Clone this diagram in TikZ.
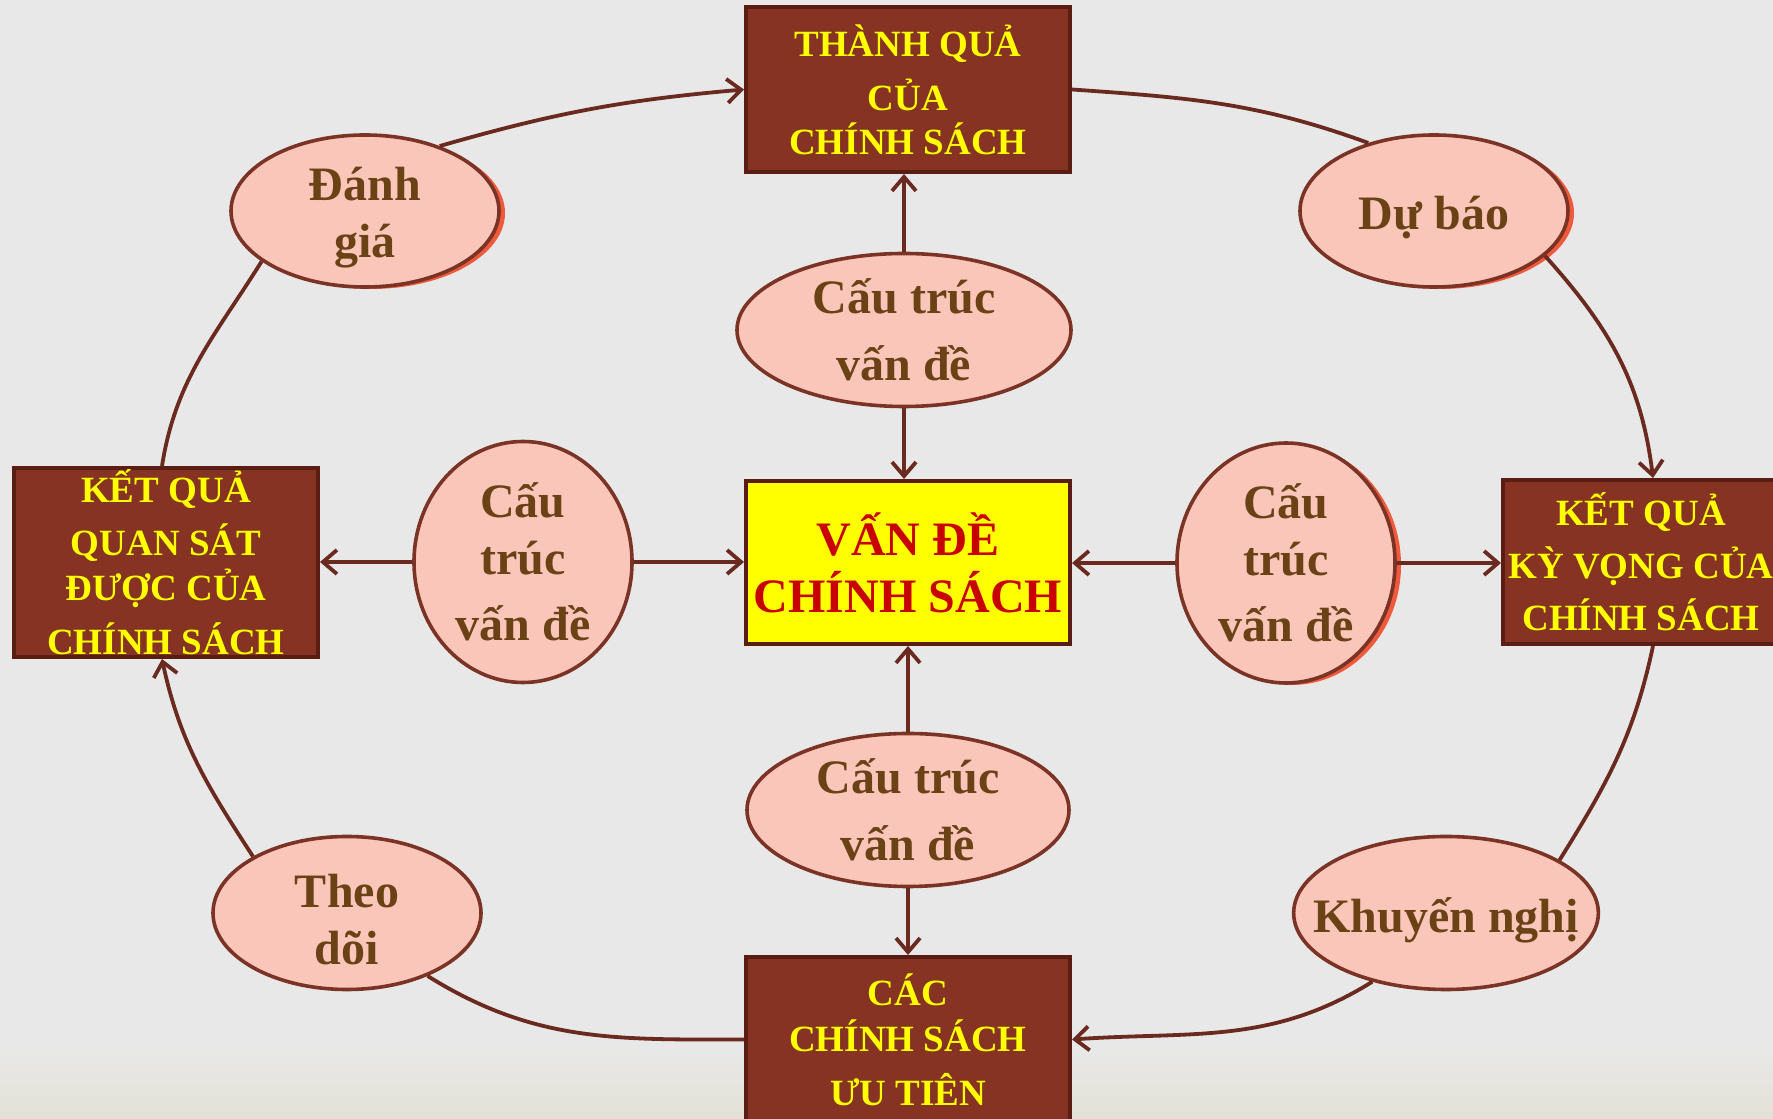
\documentclass[tikz,border=0pt]{standalone}
\usepackage{fontspec}
\setmainfont{Liberation Serif}
\usetikzlibrary{shapes.geometric,arrows.meta,shadows}
\definecolor{bgc}{HTML}{E8E8E8}
\definecolor{bgbot}{HTML}{E3E1D6}
\definecolor{linec}{HTML}{6A2A1F}
\definecolor{boxc}{HTML}{863324}
\definecolor{boxb}{HTML}{5A1D13}
\definecolor{ovalc}{HTML}{FAC6BA}
\definecolor{ovalb}{HTML}{7A3324}
\definecolor{ovtxt}{HTML}{6B4216}
\definecolor{redc}{HTML}{C80000}
\definecolor{shadc}{HTML}{F05A3C}
\definecolor{ylw}{HTML}{FFFF00}
\newcommand\dn[1]{\raisebox{-7pt}[\height][\depth]{#1}}
\begin{document}
\begin{tikzpicture}[x=1pt,y=1pt,
  conn/.style={line width=3.8pt, draw=linec},
  arr/.style={conn, -{Straight Barb[length=14pt,width=24pt]}},
  bbox/.style={rectangle, fill=boxc, draw=boxb, line width=4pt, minimum width=324pt, minimum height=165pt, inner sep=0pt, text=ylw, font=\fontsize{37}{50}\selectfont\bfseries, align=center},
  oval/.style={ellipse, fill=ovalc, draw=ovalb, line width=3.6pt, inner sep=-25pt, text=ovtxt, font=\fontsize{48}{57}\selectfont\bfseries, align=center},
  shad/.style={general shadow={shadow xshift=6pt, shadow yshift=-2pt, fill=shadc}}
]
\fill[bgc] (0,0) rectangle (1773,1119);
\shade[top color=bgc, bottom color=bgbot] (0,0) rectangle (1773,70);
\useasboundingbox (0,0) rectangle (1773,1119);

% boxes
\node[bbox] (top) at (908,1029.5) {THÀNH QUẢ\\[4pt]CỦA\\[-6pt]CHÍNH SÁCH};
\node[bbox, fill=ylw, text=redc, minimum height=163pt, font=\fontsize{48}{57}\selectfont\bfseries] (center) at (908,556.5) {VẤN ĐỀ\\CHÍNH SÁCH};
\node[bbox, minimum width=304pt, minimum height=189pt] (left) at (166,556.5) {KẾT QUẢ\\[3pt]QUAN SÁT\\[-5pt]ĐƯỢC CỦA\\[4pt]CHÍNH SÁCH};
\node[bbox, minimum width=276pt, minimum height=164pt] (right) at (1641,557) {KẾT QUẢ\\[3pt]KỲ VỌNG CỦA\\[2pt]CHÍNH SÁCH};
\node[bbox] (bottom) at (908,79.5) {CÁC\\[-4pt]CHÍNH SÁCH\\[4pt]ƯU TIÊN};

% ellipses
\node[oval, shad, minimum width=268pt, minimum height=152pt] (danh) at (365,908) {\dn{Đánh}\\\dn{giá}};
\node[oval, shad, minimum width=268pt, minimum height=152pt] (dubao) at (1434,908) {\dn{Dự báo}};
\node[oval, minimum width=334pt, minimum height=153pt, font=\fontsize{48}{67}\selectfont\bfseries] (ctop) at (904,789) {Cấu trúc\\vấn đề};
\node[oval, minimum width=218pt, minimum height=241pt] (cleft) at (523,557) {Cấu\\trúc\\[9pt]vấn đề};
\node[oval, shad, minimum width=218pt, minimum height=240pt] (cright) at (1286,556) {Cấu\\trúc\\[9pt]vấn đề};
\node[oval, minimum width=322pt, minimum height=153pt, font=\fontsize{48}{67}\selectfont\bfseries] (cbot) at (908,309) {Cấu trúc\\vấn đề};
\node[oval, minimum width=268pt, minimum height=153pt] (theo) at (347,206) {\dn{Theo}\\\dn{dõi}};
\node[oval, minimum width=292pt, minimum height=153pt] (khuyen) at (1446,206) {\dn{Khuyến nghị}};

% outer loop connectors
\draw[arr] (danh.41) to[out=16,in=185] (top.west);
\draw[conn] (danh.206) to[out=238,in=81] ([xshift=-4pt]left.north);
\draw[arr] (theo.149) to[out=123,in=282] ([xshift=-4pt]left.south);
\draw[conn] (theo.322) to[out=-32,in=180] (bottom.west);
\draw[arr] (khuyen.223) to[out=212,in=4] (bottom.east);
\draw[conn] (khuyen.25) to[out=58,in=258] ([xshift=12pt]right.south);
\draw[arr] (dubao.338) to[out=-48,in=97] ([xshift=12pt]right.north);
\draw[conn] (dubao.134) to[out=160,in=-4] (top.east);

% straight connectors
\draw[arr] (ctop.north) -- (ctop.north |- top.south);
\draw[arr] (ctop.south) -- (ctop.south |- center.north);
\draw[arr] (cleft.west) -- (cleft.west -| left.east);
\draw[arr] (cleft.east) -- (cleft.east -| center.west);
\draw[arr] (cright.west) -- (cright.west -| center.east);
\draw[arr] (cright.east) -- (cright.east -| right.west);
\draw[arr] (cbot.north) -- (cbot.north |- center.south);
\draw[arr] (cbot.south) -- (cbot.south |- bottom.north);
\end{tikzpicture}
\end{document}
